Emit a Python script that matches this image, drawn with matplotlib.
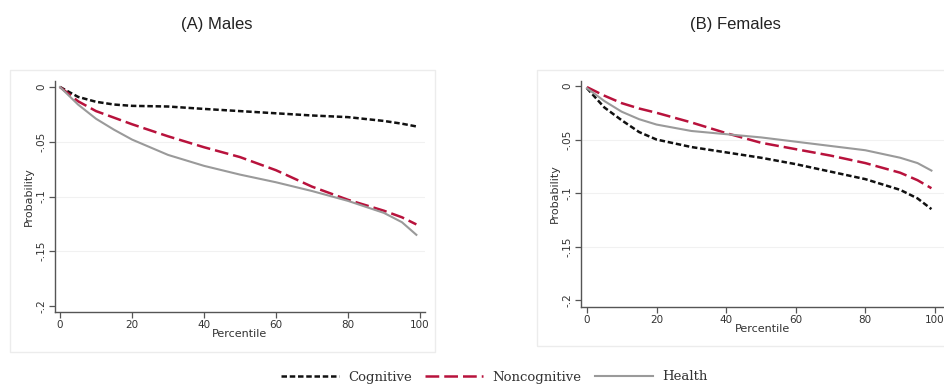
import numpy as np
import matplotlib.pyplot as plt
from matplotlib.lines import Line2D
from matplotlib.patches import Rectangle

# ==========================================================
# Data
# ==========================================================

pct = [0, 5, 10, 15, 20, 30, 40, 50, 60, 70, 80, 90, 95, 99]

males_cognitive = [0.0, -0.009, -0.0135, -0.016, -0.0172, -0.0178, -0.020,
                   -0.022, -0.024, -0.026, -0.0275, -0.031, -0.0335, -0.036]
males_noncognitive = [0.0, -0.013, -0.022, -0.028, -0.034, -0.045, -0.055,
                      -0.064, -0.076, -0.091, -0.103, -0.113, -0.119, -0.1255]
males_health = [0.0, -0.016, -0.029, -0.039, -0.048, -0.062, -0.072,
                -0.080, -0.087, -0.095, -0.104, -0.115, -0.1235, -0.135]

females_cognitive = [-0.002, -0.020, -0.032, -0.043, -0.050, -0.057, -0.062,
                     -0.067, -0.073, -0.080, -0.087, -0.097, -0.105, -0.115]
females_noncognitive = [-0.001, -0.009, -0.016, -0.021, -0.025, -0.034, -0.044,
                        -0.053, -0.059, -0.065, -0.072, -0.081, -0.088, -0.0955]
females_health = [-0.002, -0.014, -0.024, -0.031, -0.036, -0.042, -0.045,
                  -0.048, -0.052, -0.056, -0.060, -0.067, -0.072, -0.079]

x_ticks = [0, 20, 40, 60, 80, 100]
y_ticks = [0, -0.05, -0.1, -0.15, -0.2]
y_tick_labels = ["0", "-.05", "-.1", "-.15", "-.2"]

series_names = ["Cognitive", "Noncognitive", "Health"]

# ==========================================================
# Styles
# ==========================================================

black = "#111111"
red = "#b8123c"
gray = "#9a9a9a"
axis_col = "#555555"

styles = [
    dict(color=black, lw=1.8, dashes=(2.2, 1.1)),
    dict(color=red, lw=1.8, dashes=(5.5, 2.0)),
    dict(color=gray, lw=1.5),
]

fig = plt.figure(figsize=(9.45, 3.84), dpi=100)

# light plot-region boxes (Stata style), drawn behind the axes
for (x0, y0, x1, y1) in [(10, 70, 435, 352), (537, 70, 950, 346)]:
    fig.patches.append(Rectangle(
        (x0 / 945, 1 - y1 / 384), (x1 - x0) / 945, (y1 - y0) / 384,
        transform=fig.transFigure, facecolor="none",
        edgecolor="#ececec", lw=1.0, zorder=-5))


def draw_panel(rect, xlim, ylim, data, title, title_x):
    ax = fig.add_axes(rect)
    ax.set_facecolor("none")
    for vals, st in zip(data, styles):
        ax.plot(pct, vals, **st)
    ax.set_xlim(*xlim)
    ax.set_ylim(*ylim)
    ax.set_xticks(x_ticks)
    ax.set_yticks(y_ticks)
    ax.set_yticklabels(y_tick_labels, rotation=90, va="center")
    for y in y_ticks[1:4]:
        ax.axhline(y, color="#f1f1f1", lw=0.8, zorder=0)
    for s in ["top", "right"]:
        ax.spines[s].set_visible(False)
    for s in ["left", "bottom"]:
        ax.spines[s].set_color(axis_col)
        ax.spines[s].set_linewidth(1.0)
    ax.tick_params(colors=axis_col, labelcolor="#333333", labelsize=7.5,
                   length=4, width=0.9, pad=2)
    ax.set_xlabel("Percentile", fontsize=8, color="#333333", labelpad=-1)
    ax.set_ylabel("Probability", fontsize=8, color="#333333", labelpad=2)
    fig.text(title_x, 1 - 25 / 384, title, ha="center", va="center",
             fontsize=12, family="Liberation Sans", color="#222222")
    return ax


draw_panel([55 / 945, 1 - 312 / 384, 370 / 945, 231 / 384],
           (-1.4, 101.4), (-0.2055, 0.0055),
           [males_cognitive, males_noncognitive, males_health],
           "(A) Males", 217 / 945)

draw_panel([581 / 945, 1 - 307 / 384, 364 / 945, 226 / 384],
           (-1.7, 102.9), (-0.2065, 0.0047),
           [females_cognitive, females_noncognitive, females_health],
           "(B) Females", 735 / 945)

handles = [Line2D([], [], **st) for st in styles]
fig.legend(handles, series_names, loc="center", ncol=3,
           bbox_to_anchor=(494 / 945, 1 - 377 / 384), frameon=False,
           prop={"family": "DejaVu Serif", "size": 9.5},
           handlelength=4.4, handletextpad=0.7, columnspacing=1.0,
           labelcolor="#333333")

fig.savefig("out.png", dpi=100)
